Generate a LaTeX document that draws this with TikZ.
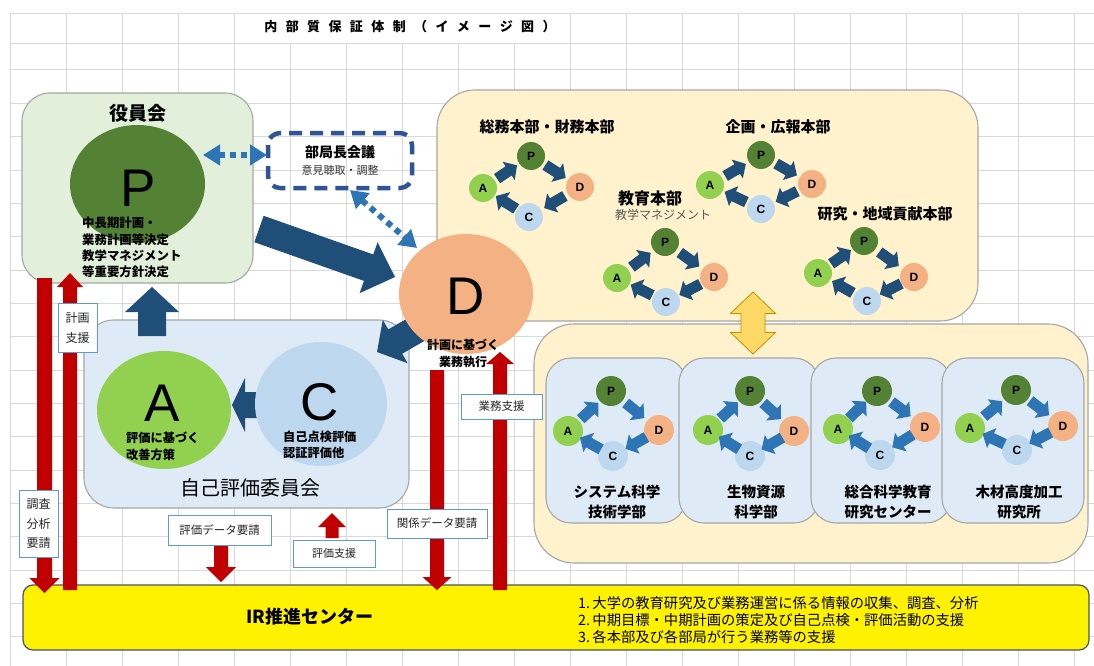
\documentclass[tikz,border=0pt]{standalone}
\usepackage{fontspec}
\setmainfont{Noto Sans CJK JP}
\newfontfamily\lat{Liberation Sans}
\usetikzlibrary{calc,arrows.meta,shapes.geometric}
\definecolor{gridc}{HTML}{D9D9D9}
\definecolor{boxgray}{HTML}{A6A6A6}
\definecolor{yakuinfill}{HTML}{E2EFDA}
\definecolor{jikofill}{HTML}{DEEBF7}
\definecolor{honbufill}{HTML}{FFF2CC}
\definecolor{colP}{HTML}{548235}
\definecolor{colD}{HTML}{F4B183}
\definecolor{colA}{HTML}{92D050}
\definecolor{colC}{HTML}{BDD7EE}
\definecolor{navy}{HTML}{1F4E79}
\definecolor{midblue}{HTML}{2E75B6}
\definecolor{dashblue}{HTML}{2F5597}
\definecolor{redarr}{HTML}{C00000}
\definecolor{lblblue}{HTML}{5B9BD5}
\definecolor{irborder}{HTML}{44546A}
\definecolor{gold}{HTML}{FFD966}
\definecolor{goldline}{HTML}{BF9000}
\definecolor{txtgray}{HTML}{595959}
\newcommand\fsz[2]{\fontsize{#1}{#2}\selectfont}
\newcommand\hs{\hspace{8.4pt}}
% block arrow: tail, tip, shaft half width, head half width, head length, style
\newcommand\blockarrow[6]{%
  \coordinate (ba-base) at ($(#2)!#5!(#1)$);
  \fill[#6] ($(#1)!#3!90:(#2)$) -- ($(ba-base)!#3!90:(#2)$) -- ($(ba-base)!#4!90:(#2)$) -- (#2)
    -- ($(ba-base)!#4!-90:(#2)$) -- ($(ba-base)!#3!-90:(#2)$) -- ($(#1)!#3!-90:(#2)$) -- cycle;}
\newcommand\miniarrow[3]{%
  \coordinate (mm) at ($(#1)!0.5!(#2)$);
  \coordinate (mt) at ($(mm)!12pt!(#1)$);
  \coordinate (mh) at ($(mm)!12pt!(#2)$);
  \blockarrow{mt}{mh}{5.5pt}{11pt}{10pt}{#3}}
% pdca: prefix, P, D, C, A, diameter, arrow colour
\newcommand\pdca[7]{%
  \node[mc, fill=colP, minimum size=#6] (#1P) at (#2) {P};
  \node[mc, fill=colD, minimum size=#6] (#1D) at (#3) {D};
  \node[mc, fill=colC, minimum size=#6] (#1C) at (#4) {C};
  \node[mc, fill=colA, minimum size=#6] (#1A) at (#5) {A};
  \miniarrow{#1A}{#1P}{#7}
  \miniarrow{#1P}{#1D}{#7}
  \miniarrow{#1D}{#1C}{#7}
  \miniarrow{#1C}{#1A}{#7}}
\begin{document}
\begin{tikzpicture}[x=1pt,y=-1pt,
  lbl/.style={draw=lblblue, fill=white, line width=1pt, inner sep=0pt, align=center, text=black!85},
  bigl/.style={font=\lat\fsz{53}{53}, inner sep=0pt},
  mc/.style={circle, inner sep=0pt, font=\lat\bfseries\fsz{12}{12}},
  rbox/.style={draw=boxgray, line width=1.1pt},
  sub/.style={rbox, fill=jikofill, rounded corners=25pt},
  btitle/.style={font=\bfseries\fsz{14.5}{20}, align=center, inner sep=0pt},
  htitle/.style={font=\bfseries\fsz{15}{15}, inner sep=0pt}]
\useasboundingbox (0,0) rectangle (1094,666);
\fill[white] (0,0) rectangle (1094,666);
% grid
\foreach \y in {13.3,43.3,70,103.3,136.7,170,203.3,236.7,270,303.3,336.7,370,403.3,436.7,470,503.3,536.7,570,603.3,636.7}
  \draw[gridc, line width=1pt] (10,\y) -- (1094,\y);
\foreach \x in {10,66,...,1074} \draw[gridc, line width=1pt] (\x,43.3) -- (\x,666);
\foreach \x in {10,66,122,178,234,570,626,682,738,794,850,906,962,1018,1074} \draw[gridc, line width=1pt] (\x,13.3) -- (\x,43.3);
% title
\node[font=\bfseries\fsz{13}{13}] (title) at (410,27) {内\hs 部\hs 質\hs 保\hs 証\hs 体\hs 制\hs （\hs イ\hs メ\hs ー\hs ジ\hs 図\hs ）};
% main boxes
\draw[rbox, fill=yakuinfill, rounded corners=28pt] (22,93) rectangle (253,283);
\draw[rbox, fill=jikofill, rounded corners=30pt] (84,320) rectangle (409,508);
\draw[rbox, fill=honbufill, rounded corners=38pt] (437,90) rectangle (978,321);
\draw[rbox, fill=honbufill, rounded corners=40pt] (534,324) rectangle (1088,563);
\draw[sub] (546,358) rectangle (686,523);
\draw[sub] (679,358) rectangle (819,523);
\draw[sub] (811,358) rectangle (951,523);
\draw[sub] (942,358) rectangle (1084,523);
% arrows whose tails hide behind circles
\coordinate (caT) at (262,405); \coordinate (caH) at (232,405);
\blockarrow{caT}{caH}{13pt}{27pt}{13pt}{fill=navy}
\coordinate (djT) at (438,317); \coordinate (djH) at (377,352);
\blockarrow{djT}{djH}{14pt}{25pt}{21pt}{fill=navy}
% big ellipses
\node[ellipse, fill=colP, minimum width=135pt, minimum height=118pt, inner sep=0pt] (P) at (137.5,184) {};
\node[ellipse, fill=colA, minimum width=134pt, minimum height=118pt, inner sep=0pt] (A) at (164,410) {};
\node[ellipse, fill=colC, minimum width=132pt, minimum height=124pt, inner sep=0pt] (C) at (321,404) {};
\node[ellipse, fill=colD, minimum width=134pt, minimum height=120pt, inner sep=0pt] (D) at (466,294) {};
\node[bigl] (Pl) at (138,188) {P};
\node[bigl] (Al) at (162.5,403) {A};
\node[bigl] (Cl) at (320,402) {C};
\node[bigl] (Dl) at (466,296) {D};
% other navy arrows
\coordinate (pdT) at (259,229); \coordinate (pdH) at (395,277);
\blockarrow{pdT}{pdH}{14pt}{27pt}{28pt}{fill=navy}
\coordinate (upT) at (152,336); \coordinate (upH) at (152,287);
\blockarrow{upT}{upH}{14pt}{27pt}{25pt}{fill=navy}
% 部局長会議
\draw[dashblue, line width=4.5pt, dash pattern=on 13pt off 8pt, rounded corners=12pt] (268,133) rectangle (412,188);
\node[font=\bfseries\fsz{14}{14}] (bk) at (340,152) {部局長会議};
\node[font=\fsz{11}{11}, text=black!80] (bk2) at (340,170) {意見聴取・調整};
\coordinate (d1a) at (203,155); \coordinate (d1b) at (267,155);
\coordinate (d2a) at (350,190); \coordinate (d2b) at (417,248);
\draw[midblue, line width=6pt, dash pattern=on 6pt off 5pt, {Triangle[length=17pt,width=20pt]}-{Triangle[length=17pt,width=20pt]}] (d1a) -- (d1b);
\draw[midblue, line width=6pt, dash pattern=on 6pt off 5pt, {Triangle[length=17pt,width=20pt]}-{Triangle[length=17pt,width=20pt]}] (d2a) -- (d2b);
% texts
\node[font=\bfseries\fsz{19}{19}] (yk) at (138,113) {役員会};
\node[anchor=west, align=left, font=\bfseries\fsz{12.4}{16.3}, inner sep=0pt] (Pt) at (82,247.5) {中長期計画・\\業務計画等決定\\教学マネジメント\\等重要方針決定};
\node[font=\fsz{20}{20}] (jk) at (250,488) {自己評価委員会};
\node[anchor=west, align=left, font=\bfseries\fsz{12.2}{16.5}, inner sep=0pt] (At) at (126,446.5) {評価に基づく\\改善方策};
\node[anchor=west, align=left, font=\bfseries\fsz{12.2}{16.5}, inner sep=0pt] (Ct) at (283,445) {自己点検評価\\認証評価他};
\node[align=center, font=\bfseries\fsz{12}{17}, inner sep=0pt] (Dt) at (463,353.5) {計画に基づく\\業務執行};
% headquarters titles
\node[htitle] (h1) at (547,127) {総務本部・財務本部};
\node[htitle] (h2) at (778,127) {企画・広報本部};
\node[htitle, font=\bfseries\fsz{16}{16}] (h3) at (650,198) {教育本部};
\node[font=\fsz{12}{12}, text=txtgray, inner sep=0pt] (h3b) at (663,215) {教学マネジメント};
\node[htitle] (h4) at (885,214) {研究・地域貢献本部};
% mini cycles
\pdca{t1}{531,156}{580,187}{529,217}{483,188}{28pt}{fill=navy}
\pdca{t2}{761,155}{812,184}{761,209}{710,185}{28pt}{fill=navy}
\pdca{t3}{665,242}{714,277}{666,302}{617,278}{28pt}{fill=navy}
\pdca{t4}{864,241}{914,277}{867,301}{818,273}{28pt}{fill=navy}
\pdca{b1}{611,391}{659,430}{613,456}{568,431}{30pt}{fill=midblue}
\pdca{b2}{750,391}{794,431}{750,456}{708,430}{30pt}{fill=midblue}
\pdca{b3}{877,391}{925,427}{880,455}{838,429}{30pt}{fill=midblue}
\pdca{b4}{1016,390}{1063,426}{1017,450}{970,428}{30pt}{fill=midblue}
\node[btitle] (s1) at (617,502) {システム科学\\技術学部};
\node[btitle] (s2) at (756,502) {生物資源\\科学部};
\node[btitle] (s3) at (888,502) {総合科学教育\\研究センター};
\node[btitle] (s4) at (1019,502) {木材高度加工\\研究所};
% yellow double arrow
\filldraw[fill=gold, draw=goldline, line width=0.8pt] (753,292) -- (775.5,313.5) -- (765,313.5) -- (765,332.5) -- (775.5,332.5) -- (753,354) -- (730.5,332.5) -- (741,332.5) -- (741,313.5) -- (730.5,313.5) -- cycle;
% IR box
\draw[fill=yellow, draw=irborder, line width=1.2pt, rounded corners=10pt] (23,585) rectangle (1089,650);
\node[font=\bfseries\fsz{18}{18}] (ir) at (310,617) {IR推進センター};
\node[anchor=west, font=\fsz{14.3}{14.3}, inner sep=0pt] (ir1) at (578,603) {1.\,大学の教育研究及び業務運営に係る情報の収集、調査、分析};
\node[anchor=west, font=\fsz{14.3}{14.3}, inner sep=0pt] (ir2) at (578,620) {2.\,中期目標・中期計画の策定及び自己点検・評価活動の支援};
\node[anchor=west, font=\fsz{14.3}{14.3}, inner sep=0pt] (ir3) at (578,637) {3.\,各本部及び各部局が行う業務等の支援};
% red arrows
\coordinate (r1T) at (44.5,278); \coordinate (r1H) at (44.5,593);
\blockarrow{r1T}{r1H}{7.5pt}{15pt}{15pt}{fill=redarr}
\coordinate (r2T) at (70,590); \coordinate (r2H) at (70,273);
\blockarrow{r2T}{r2H}{7pt}{13pt}{14pt}{fill=redarr}
\coordinate (r3T) at (221,545); \coordinate (r3H) at (221,582);
\blockarrow{r3T}{r3H}{7pt}{15pt}{15pt}{fill=redarr}
\coordinate (r4T) at (332,538); \coordinate (r4H) at (332,513);
\blockarrow{r4T}{r4H}{6.5pt}{14pt}{14pt}{fill=redarr}
\coordinate (r5T) at (437,370); \coordinate (r5H) at (437,590);
\blockarrow{r5T}{r5H}{7pt}{14.5pt}{13pt}{fill=redarr}
\coordinate (r6T) at (500,590); \coordinate (r6H) at (500,352);
\blockarrow{r6T}{r6H}{7pt}{14pt}{12pt}{fill=redarr}
% labels
\node[lbl, minimum width=39pt, minimum height=49pt, font=\fsz{12}{20}] (l1) at (77.5,327.5) {計画\\支援};
\node[lbl, minimum width=39pt, minimum height=67pt, font=\fsz{12}{19.5}] (l2) at (38.5,523.5) {調査\\分析\\要請};
\node[lbl, minimum width=103pt, minimum height=30pt, font=\fsz{11.5}{11.5}] (l3) at (219.5,530) {評価データ要請};
\node[lbl, minimum width=82pt, minimum height=27pt, font=\fsz{11}{11}] (l4) at (334,553.5) {評価支援};
\node[lbl, minimum width=100pt, minimum height=29pt, font=\fsz{11.5}{11.5}] (l5) at (437,523.5) {関係データ要請};
\node[lbl, minimum width=81pt, minimum height=25pt, font=\fsz{11.5}{11.5}] (l6) at (501.5,406.5) {業務支援};
\end{tikzpicture}
\end{document}
